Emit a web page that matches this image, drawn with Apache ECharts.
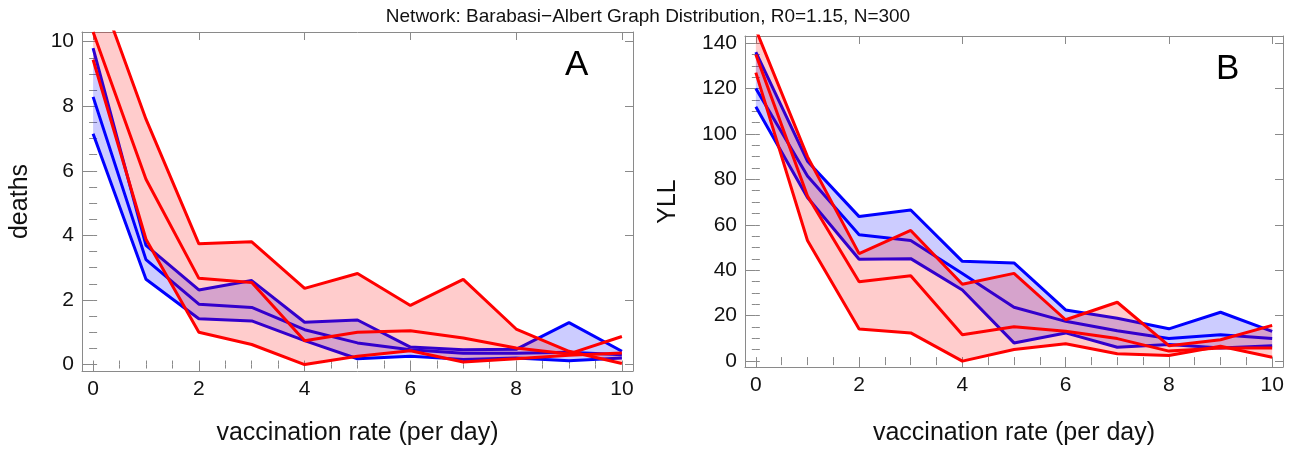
<!DOCTYPE html>
<html>
<head>
<meta charset="utf-8">
<script src="https://cdn.jsdelivr.net/npm/echarts@6/dist/echarts.min.js"></script>
<style>
  html, body { margin: 0; padding: 0; background: #fff; }
  #chart { width: 1296px; height: 451px; }
</style>
</head>
<body>
<div id="chart"></div>
<script>
// vaccination rate (per day)
const rates = [0, 1, 2, 3, 4, 5, 6, 7, 8, 9, 10];

// panel A: deaths
const deathsBlueHi  = [9.8, 3.69, 2.31, 2.6, 1.31, 1.38, 0.54, 0.46, 0.47, 1.3, 0.41];
const deathsBlueMid = [8.29, 3.25, 1.87, 1.77, 1.08, 0.67, 0.46, 0.35, 0.35, 0.38, 0.3];
const deathsBlueLo  = [7.15, 2.64, 1.42, 1.35, 0.74, 0.18, 0.26, 0.16, 0.2, 0.12, 0.2];
const deathsRedHi   = [12.1, 7.6, 3.74, 3.8, 2.36, 2.82, 1.83, 2.64, 1.1, 0.41, 0.03];
const deathsRedMid  = [10.3, 5.74, 2.67, 2.54, 0.74, 1.0, 1.05, 0.82, 0.51, 0.33, 0.87];
const deathsRedLo   = [9.44, 3.88, 1.0, 0.62, 0.0, 0.26, 0.43, 0.08, 0.18, 0.29, 0.36];

// panel B: YLL
const yllBlueHi  = [136, 88, 63.6, 66.5, 43.9, 43.2, 22.5, 18.9, 14.2, 21.5, 13.1];
const yllBlueMid = [120, 81.5, 55.6, 53.1, 38.6, 23.7, 17.5, 13.4, 9.9, 11.6, 9.9];
const yllBlueLo  = [112, 72, 44.8, 45.1, 31.3, 8.0, 12.4, 6.1, 7.3, 5.8, 6.8];
const yllRedHi   = [146, 90, 47.3, 57.5, 33.8, 38.6, 18.2, 25.9, 6.8, 9.4, 15.7];
const yllRedMid  = [135, 72.7, 34.9, 37.6, 11.6, 15.1, 13.1, 9.9, 4.4, 5.8, 5.8];
const yllRedLo   = [127, 53.1, 14.1, 12.4, 0.0, 5.1, 7.6, 3.2, 2.5, 6.5, 1.7];

// ticks
const xLabels = [0, 2, 4, 6, 8, 10];
const xMinor = [0, 0.5, 1, 1.5, 2, 2.5, 3, 3.5, 4, 4.5, 5, 5.5, 6, 6.5, 7, 7.5, 8, 8.5, 9, 9.5, 10];
const deathsLabels = [0, 2, 4, 6, 8, 10];
const deathsMinor = [0, 0.5, 1, 1.5, 2, 2.5, 3, 3.5, 4, 4.5, 5, 5.5, 6, 6.5, 7, 7.5, 8, 8.5, 9, 9.5, 10];
const yllLabels = [0, 20, 40, 60, 80, 100, 120, 140];
const yllMinor = [0, 5, 10, 15, 20, 25, 30, 35, 40, 45, 50, 55, 60, 65, 70, 75, 80, 85, 90, 95, 100, 105, 110, 115, 120, 125, 130, 135, 140];

const FONT = 'Liberation Sans, Arial, sans-serif';
const BLUE = '#0000ff';
const RED = '#ff0000';
const FRAME = '#8a8a8a';

function pairs(ys) {
  return rates.map((x, i) => [x, ys[i]]);
}

// one axis side: a major-tick axis (optionally labelled) and a minor-tick axis
function sideAxes(grid, pos, min, max, labels, minor, showLabels, name, nameGap) {
  const major = {
    type: 'value', gridIndex: grid, position: pos, min: min, max: max,
    axisLine: { show: true, onZero: false, lineStyle: { color: FRAME, width: 1 } },
    axisTick: { show: true, inside: true, length: 8, customValues: labels, lineStyle: { color: FRAME } },
    axisLabel: {
      show: showLabels, customValues: labels, color: '#111',
      fontFamily: FONT, fontSize: 21, margin: 8
    },
    splitLine: { show: false }
  };
  if (name) {
    major.name = name;
    major.nameLocation = 'middle';
    major.nameGap = nameGap;
    major.nameTextStyle = { fontFamily: FONT, fontSize: 25, color: '#111' };
  }
  const minorAxis = {
    type: 'value', gridIndex: grid, position: pos, min: min, max: max,
    axisLine: { show: false },
    axisTick: { show: true, inside: true, length: 4, customValues: minor, lineStyle: { color: FRAME } },
    axisLabel: { show: false },
    splitLine: { show: false }
  };
  return [major, minorAxis];
}

// filled band between two curves, drawn as one polygon through the axes
function band(lo, hi, color, xi, yi, z) {
  const n = rates.length;
  return {
    type: 'custom', xAxisIndex: xi, yAxisIndex: yi, z: z, clip: true, silent: true,
    data: [[0]],
    renderItem: function (params, api) {
      const pts = [];
      for (let i = 0; i < n; i++) pts.push(api.coord([rates[i], lo[i]]));
      for (let i = n - 1; i >= 0; i--) pts.push(api.coord([rates[i], hi[i]]));
      return { type: 'polygon', shape: { points: pts }, style: { fill: color, stroke: null } };
    }
  };
}

function line(ys, color, xi, yi, z) {
  return {
    type: 'line', xAxisIndex: xi, yAxisIndex: yi, data: pairs(ys), z: z,
    symbol: 'none', silent: true, clip: true,
    lineStyle: { width: 3, color: color }
  };
}

const xA = -0.21, xB = 10.21;

const xAxis = [].concat(
  sideAxes(0, 'bottom', xA, xB, xLabels, xMinor, true, 'vaccination rate (per day)', 50),
  sideAxes(0, 'top', xA, xB, xLabels, xMinor, false),
  sideAxes(1, 'bottom', xA, xB, xLabels, xMinor, true, 'vaccination rate (per day)', 54),
  sideAxes(1, 'top', xA, xB, xLabels, xMinor, false)
);
const yAxis = [].concat(
  sideAxes(0, 'left', -0.2, 10.3, deathsLabels, deathsMinor, true, 'deaths', 49),
  sideAxes(0, 'right', -0.2, 10.3, deathsLabels, deathsMinor, false),
  sideAxes(1, 'left', -2.6, 143.1, yllLabels, yllMinor, true, 'YLL', 64),
  sideAxes(1, 'right', -2.6, 143.1, yllLabels, yllMinor, false)
);

const series = [
  band(deathsBlueLo, deathsBlueHi, 'rgba(0,0,255,0.2)', 0, 0, 1),
  line(deathsBlueHi, BLUE, 0, 0, 2), line(deathsBlueMid, BLUE, 0, 0, 2), line(deathsBlueLo, BLUE, 0, 0, 2),
  band(deathsRedLo, deathsRedHi, 'rgba(255,0,0,0.2)', 0, 0, 3),
  line(deathsRedHi, RED, 0, 0, 4), line(deathsRedMid, RED, 0, 0, 4), line(deathsRedLo, RED, 0, 0, 4),
  band(yllBlueLo, yllBlueHi, 'rgba(0,0,255,0.2)', 4, 4, 1),
  line(yllBlueHi, BLUE, 4, 4, 2), line(yllBlueMid, BLUE, 4, 4, 2), line(yllBlueLo, BLUE, 4, 4, 2),
  band(yllRedLo, yllRedHi, 'rgba(255,0,0,0.2)', 4, 4, 3),
  line(yllRedHi, RED, 4, 4, 4), line(yllRedMid, RED, 4, 4, 4), line(yllRedLo, RED, 4, 4, 4)
];

const chart = echarts.init(document.getElementById('chart'), null, { renderer: 'canvas' });
chart.setOption({
  animation: false,
  backgroundColor: '#fff',
  title: {
    text: 'Network: Barabasi\u2212Albert Graph Distribution, R0=1.15, N=300',
    left: 'center', top: 2,
    textStyle: { fontFamily: FONT, fontSize: 19, fontWeight: 'normal', color: '#111' }
  },
  grid: [
    { left: 82, top: 32, width: 551, height: 341 },
    { left: 745, top: 36, width: 538, height: 333 }
  ],
  xAxis: xAxis,
  yAxis: yAxis,
  series: series,
  graphic: [
    { type: 'text', left: 565, top: 48, style: { text: 'A', fontFamily: FONT, fontSize: 35, fill: '#000' } },
    { type: 'text', left: 1216, top: 52, style: { text: 'B', fontFamily: FONT, fontSize: 35, fill: '#000' } }
  ]
});
</script>
</body>
</html>
